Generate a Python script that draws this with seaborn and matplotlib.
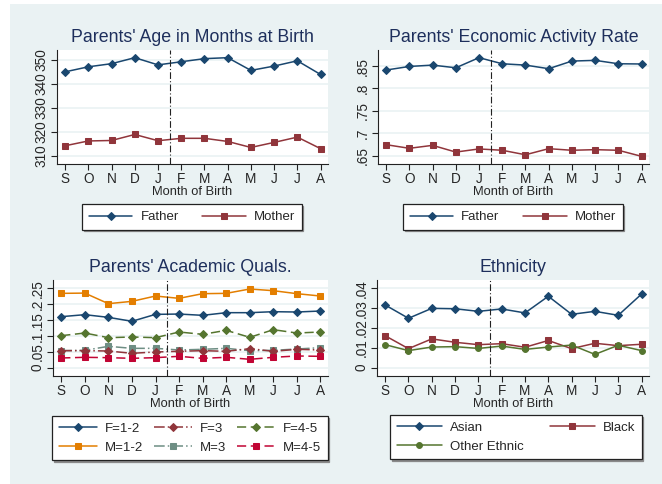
import matplotlib.pyplot as plt
import matplotlib.patches as mpatches
import seaborn as sns

months = ['S', 'O', 'N', 'D', 'J', 'F', 'M', 'A', 'M', 'J', 'J', 'A']
xpos = list(range(len(months)))

# parents' age in months at birth
age_father = [345.1, 347.2, 348.5, 351.0, 348.0, 349.3, 350.6, 351.0, 345.7, 347.5, 349.7, 344.0]
age_mother = [314.3, 316.3, 316.5, 319.0, 316.4, 317.4, 317.4, 316.1, 313.6, 315.7, 317.9, 313.1]

# economic activity rate
econ_father = [.841, .849, .852, .846, .8686, .855, .852, .844, .861, .8626, .855, .8545]
econ_mother = [.6745, .6664, .673, .658, .665, .662, .652, .6656, .662, .6634, .662, .6485]

# academic quals
f12 = [.1607, .167, .1586, .1461, .168, .169, .1649, .1733, .1733, .1764, .1754, .1785]
f3 = [.0536, .0536, .0525, .0452, .0494, .0515, .0536, .0515, .0599, .0515, .0578, .0557]
f45 = [.1008, .1092, .0945, .0966, .0945, .1124, .105, .1176, .0956, .1197, .1092, .1124]
m12 = [.2342, .235, .2017, .209, .2258, .2185, .2332, .2342, .2479, .2426, .2332, .2258]
m3 = [.0536, .0546, .0672, .0609, .0609, .0557, .0578, .0609, .0536, .0546, .0588, .063]
m45 = [.0305, .0326, .0315, .0294, .0315, .0357, .0294, .0326, .0263, .0326, .0368, .0357]

# ethnicity
asian = [.0316, .0249, .0299, .0297, .0284, .0296, .0276, .036, .0269, .0284, .0264, .0371]
black = [.0161, .0096, .0145, .0128, .0116, .0121, .0103, .0137, .0096, .0123, .0111, .0118]
other = [.0116, .0086, .0104, .0106, .0097, .0109, .0092, .0104, .0114, .0067, .0113, .0086]

BG = '#EAF2F3'
NAVY = '#1a476f'
MAROON = '#90353b'
GREEN = '#55752f'
ORANGE = '#e37e00'
TEAL = '#6e8e84'
CRIMSON = '#c10534'
TITLE = '#1e2f5c'
FS = 9.3

sns.set_theme(style='white')
plt.rcParams['font.family'] = ['Liberation Sans', 'DejaVu Sans']

fig = plt.figure(figsize=(6.62, 4.84), dpi=100, facecolor='white')
fig.patches.append(mpatches.Rectangle((10 / 662, 0), 1, 1 - 4 / 484, transform=fig.transFigure,
                                      facecolor=BG, edgecolor='none', zorder=-10))

W, H = 662, 484


def make_ax(x0, x1, y0, y1):
    return fig.add_axes([x0 / W, 1 - y1 / H, (x1 - x0) / W, (y1 - y0) / H])


def style_ax(ax, title, yticks, ylabels, ylim):
    ax.set_facecolor('white')
    ax.set_xlim(-0.35, 11.32)
    ax.set_ylim(*ylim)
    ax.set_xticks(xpos)
    ax.set_xticklabels(months, fontsize=FS + 0.5)
    ax.set_yticks(yticks)
    ax.set_yticklabels(ylabels, rotation=90, va='center', fontsize=FS + 0.5)
    ax.set_xlabel('Month of Birth', fontsize=FS, labelpad=0)
    ax.set_ylabel('')
    ax.set_title(title, fontsize=12.8, color=TITLE, pad=6)
    for s in ['top', 'right']:
        ax.spines[s].set_visible(False)
    for s in ['left', 'bottom']:
        ax.spines[s].set_color('#222222')
        ax.spines[s].set_linewidth(0.8)
    ax.tick_params(axis='both', direction='out', length=4, width=0.8, color='#222222',
                   pad=2, left=True, bottom=True)
    ax.yaxis.grid(True, color=BG, linewidth=1.2)
    ax.set_axisbelow(True)
    ax.axvline(4.5, color='#222222', linewidth=0.8, linestyle=(0, (6, 2, 1, 2)))


def draw(ax, y, color, marker, ls, label):
    sns.lineplot(x=xpos, y=y, ax=ax, color=color, marker=marker, linestyle=ls,
                 linewidth=1.1, markersize=3.8 if marker == 'D' else 4.2,
                 markeredgecolor=color, label=label)


def add_legend(ax, order, ncol, cx, cy, colsp, hl):
    handles, labels = ax.get_legend_handles_labels()
    lut = dict(zip(labels, handles))
    if ax.get_legend() is not None:
        ax.get_legend().remove()
    leg = fig.legend([lut[o] for o in order], order, loc='center', ncol=ncol,
                     bbox_to_anchor=(cx / W, 1 - cy / H), frameon=True, fancybox=False,
                     edgecolor='#222222', fontsize=FS + 0.2, handlelength=hl,
                     columnspacing=colsp, handletextpad=0.6, borderpad=0.5,
                     labelspacing=0.5,
                     shadow={'ox': 1.2, 'oy': -1.2, 'color': '#8a8a8a', 'alpha': 1})
    leg.get_frame().set_linewidth(0.9)


# panel 1
ax1 = make_ax(57, 328, 50, 164)
draw(ax1, age_father, NAVY, 'D', '-', 'Father')
draw(ax1, age_mother, MAROON, 's', '-', 'Mother')
style_ax(ax1, "Parents' Age in Months at Birth", [310, 320, 330, 340, 350],
         ['310', '320', '330', '340', '350'], (306.7, 354.2))
add_legend(ax1, ['Father', 'Mother'], 2, 192, 217, 1.8, 3.3)

# panel 2
ax2 = make_ax(378, 649, 50, 164)
draw(ax2, econ_father, NAVY, 'D', '-', 'Father')
draw(ax2, econ_mother, MAROON, 's', '-', 'Mother')
style_ax(ax2, "Parents' Economic Activity Rate", [.65, .7, .75, .8, .85],
         ['.65', '.7', '.75', '.8', '.85'], (.6314, .8857))
add_legend(ax2, ['Father', 'Mother'], 2, 513, 217, 1.8, 3.3)

# panel 3
dd = (0, (7, 2, 1, 2))
ax3 = make_ax(53, 328, 280, 376)
draw(ax3, m12, ORANGE, 's', '-', 'M=1-2')
draw(ax3, f12, NAVY, 'D', '-', 'F=1-2')
draw(ax3, f45, GREEN, 'D', (0, (6, 3)), 'F=4-5')
draw(ax3, m3, TEAL, 's', dd, 'M=3')
draw(ax3, f3, MAROON, 'D', dd, 'F=3')
draw(ax3, m45, CRIMSON, 's', (0, (6, 3)), 'M=4-5')
style_ax(ax3, "Parents' Academic Quals.", [0, .05, .1, .15, .2, .25],
         ['0', '.05', '.1', '.15', '.2', '.25'], (-.0263, .2763))
add_legend(ax3, ['F=1-2', 'M=1-2', 'F=3', 'M=3', 'F=4-5', 'M=4-5'], 3, 190, 438, 0.8, 2.9)

# panel 4
ax4 = make_ax(377, 649, 280, 376)
draw(ax4, asian, NAVY, 'D', '-', 'Asian')
draw(ax4, black, MAROON, 's', '-', 'Black')
draw(ax4, other, GREEN, 'o', '-', 'Other Ethnic')
style_ax(ax4, 'Ethnicity', [0, .01, .02, .03, .04],
         ['0', '.01', '.02', '.03', '.04'], (-.0042, .0442))
add_legend(ax4, ['Asian', 'Other Ethnic', 'Black'], 2, 516, 437, 2.0, 3.4)

fig.savefig('out.png', dpi=100, facecolor='white')
